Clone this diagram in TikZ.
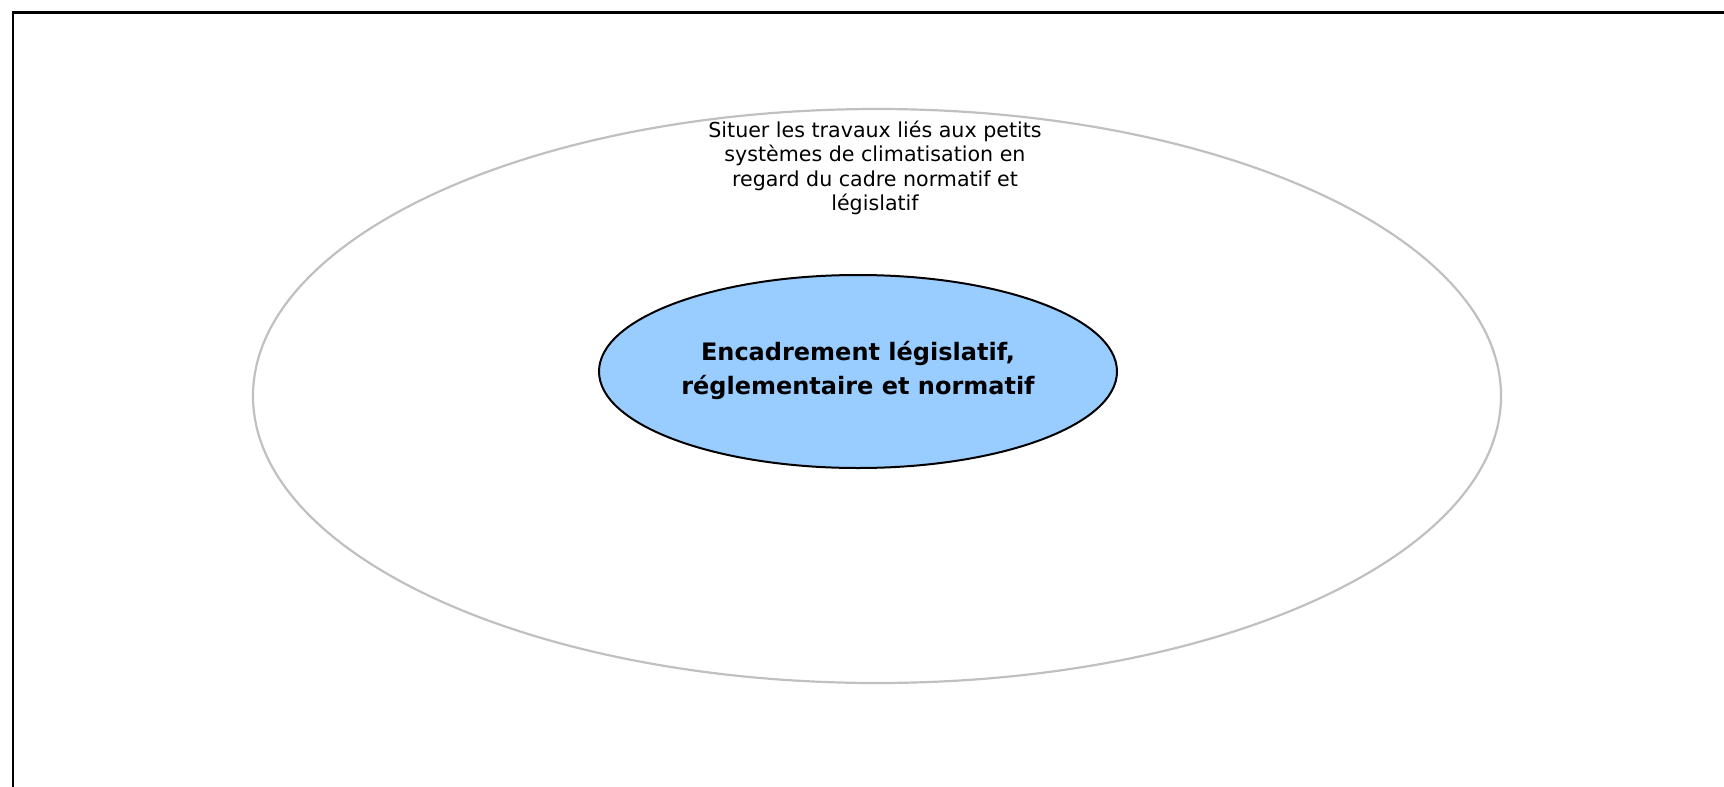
\documentclass[tikz,border=0pt]{standalone}
\usepackage{fontspec}
\setmainfont{DejaVu Sans}
\usetikzlibrary{shapes.geometric}
\definecolor{innerblue}{HTML}{99CCFF}
\definecolor{outergray}{HTML}{C0C0C0}
\tikzset{
  outerell/.style={draw=outergray, line width=1.1pt},
  innerell/.style={draw=black, fill=innerblue, line width=1pt},
  smalltxt/.style={align=center, font=\fontsize{10.3}{12.2}\selectfont, inner sep=0pt},
  bigtxt/.style={align=center, font=\fontsize{12}{17}\selectfont\bfseries, inner sep=0pt}
}
\begin{document}
\begin{tikzpicture}[x=0.5pt,y=-0.5pt]
\useasboundingbox (0,0) rectangle (1724,787);
\begin{scope}
\clip (0,0) rectangle (1724,787);
\draw[line width=1.2pt] (13,800) -- (13,12.5) -- (1730,12.5);
\end{scope}
\draw[outerell] (877,396) ellipse [x radius=624, y radius=287];
\draw[innerell] (858,371.5) ellipse [x radius=259, y radius=96.5];
\node[smalltxt] (outer) at (875,168) {Situer les travaux liés aux petits\\systèmes de climatisation en\\regard du cadre normatif et\\législatif};
\node[bigtxt] (inner) at (858,370) {Encadrement législatif,\\réglementaire et normatif};
\end{tikzpicture}
\end{document}
